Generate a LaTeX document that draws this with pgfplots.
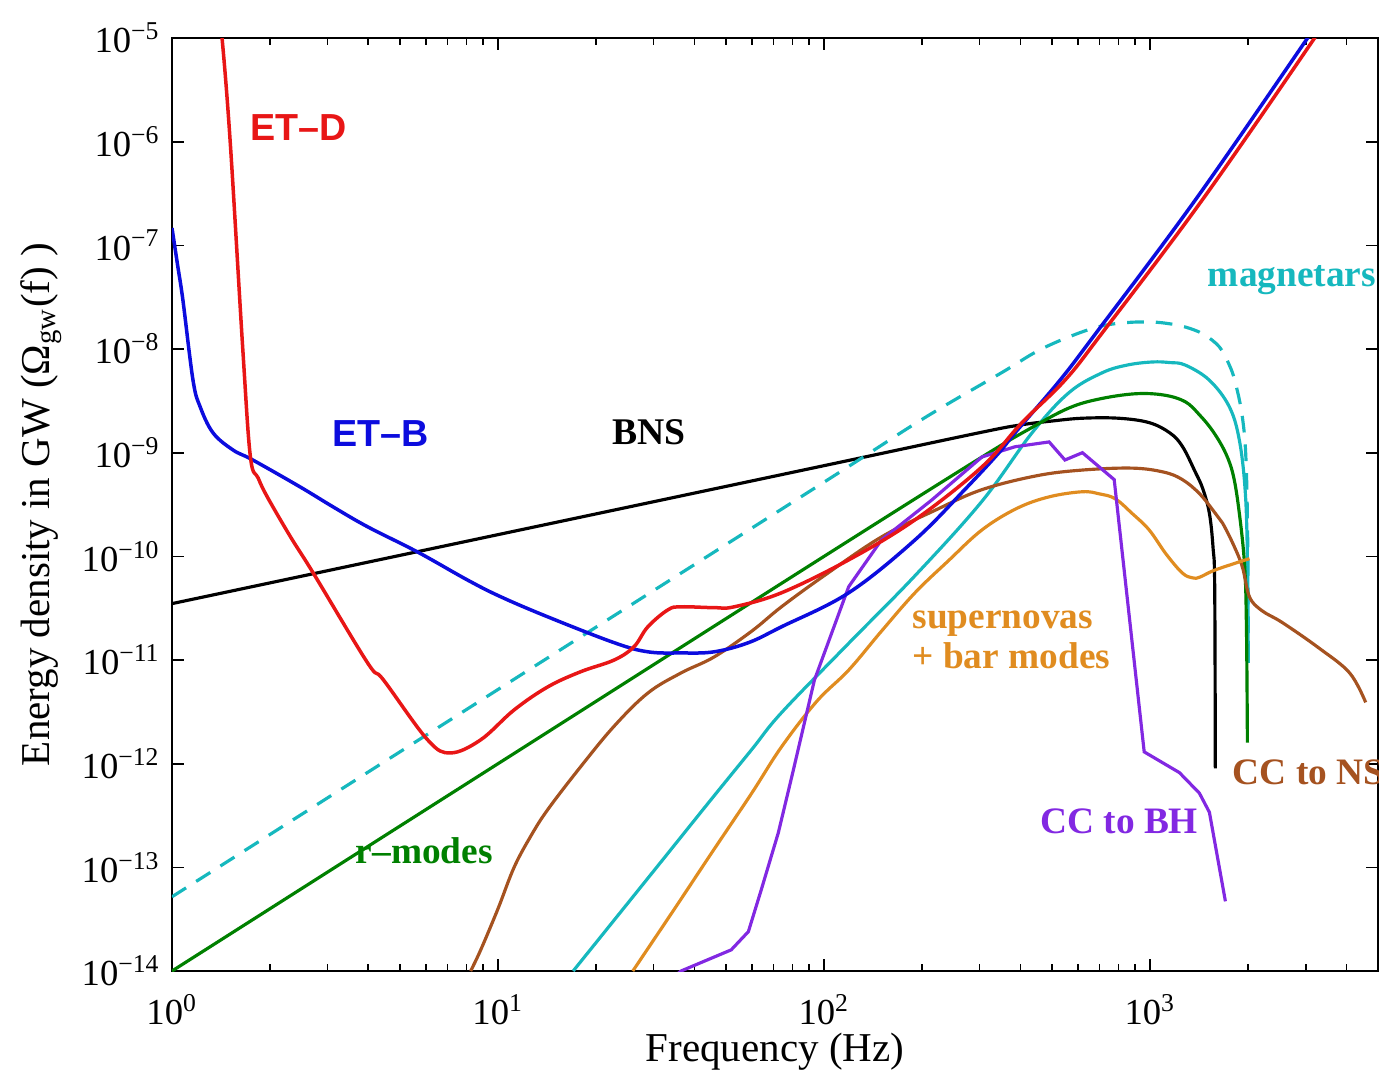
\documentclass[border=0pt]{standalone}
\usepackage{fontspec}
\setmainfont{Liberation Serif}
\newfontfamily\hv{Liberation Sans}
\usepackage{pgfplots}
\pgfplotsset{compat=1.18}

\definecolor{etd}{RGB}{232,22,22}
\definecolor{etb}{RGB}{12,12,222}
\definecolor{mag}{RGB}{22,184,190}
\definecolor{rmode}{RGB}{0,128,0}
\definecolor{ccns}{RGB}{165,82,32}
\definecolor{sn}{RGB}{224,140,32}
\definecolor{ccbh}{RGB}{130,40,226}

\newcommand{\pw}[1]{10\textsuperscript{#1}}

\begin{document}
\begin{tikzpicture}
\useasboundingbox (-51.6pt,-30pt) rectangle (363pt,291.3pt);
\begin{axis}[
  at={(0pt,0pt)}, anchor=south west,
  scale only axis, width=361.8pt, height=279.9pt,
  xmode=log, ymode=log,
  xmin=1, xmax=5000, ymin=1e-14, ymax=1e-5,
  axis line style={line width=0.6pt},
  xtick={1,10,100,1000},
  xticklabels={\pw{0},\pw{1},\pw{2},\pw{3}},
  minor xtick={2,3,4,5,6,7,8,9,20,30,40,50,60,70,80,90,200,300,400,500,600,700,800,900,2000,3000,4000},
  ytick={1e-14,1e-13,1e-12,1e-11,1e-10,1e-9,1e-8,1e-7,1e-6,1e-5},
  yticklabels={\pw{−14},\pw{−13},\pw{−12},\pw{−11},\pw{−10},\pw{−9},\pw{−8},\pw{−7},\pw{−6},\pw{−5}},
  yminorticks=false,
  major tick length=3.6pt, minor tick length=2pt,
  every tick/.style={black, line width=0.5pt},
  tick label style={font=\fontsize{11}{13}\selectfont},
  xticklabel style={yshift=-3.5pt},
  xlabel={Frequency (Hz)},
  ylabel={Energy density in GW (Ω\textsubscript{gw}(f) )},
  label style={font=\fontsize{12.3}{14}\selectfont},
  xlabel style={yshift=4.5pt},
  ylabel style={yshift=-1pt},
  every axis plot/.append style={line width=0.95pt},
  sm/.style={smooth, tension=0.6},
]

% BNS
\addplot[black, sm] coordinates {
(1,3.5e-11) (10,1.62e-10) (100,7.5e-10) (300,1.56e-9) (400,1.85e-9) (500,2.02e-9)
(620,2.15e-9) (800,2.15e-9) (993,1.95e-9) (1150,1.55e-9) (1256,1.15e-9) (1376,6.5e-10)
(1450,4.5e-10) (1520,2.6e-10) (1560,1.2e-10) (1578,5e-11) (1585,9e-13)};

% magnetars (dashed)
\addplot[mag, sm, dash pattern=on 5pt off 3.6pt] coordinates {
(1,5.2e-14) (10,5.2e-12) (100,5.2e-10) (200,2.1e-9) (350,5.9e-9) (450,9.5e-9)
(564,1.31e-8) (700,1.65e-8) (850,1.8e-8) (1015,1.82e-8) (1150,1.75e-8) (1282,1.63e-8)
(1450,1.4e-8) (1630,1.05e-8) (1750,7e-9) (1827,4.7e-9) (1919,2.2e-9) (1970,8e-10)
(1995,1e-10) (2000,9.4e-12)};

% magnetars (solid)
\addplot[mag, sm] coordinates {
(17,1e-14) (30,9.2e-14) (45,4.5e-13) (60,1.37e-12) (74,3.1e-12) (119,1.45e-11)
(190,6.5e-11) (305,3.4e-10) (434,1.55e-9) (564,3.8e-9) (713,5.9e-9) (850,7.0e-9)
(1015,7.5e-9) (1150,7.4e-9) (1282,7.0e-9) (1520,5.0e-9) (1750,2.77e-9) (1880,1.3e-9)
(1960,4e-10) (1990,8e-11) (2000,9.4e-12)};

% r-modes
\addplot[rmode, sm] coordinates {
(1,1e-14) (10,1e-12) (100,1e-10) (300,8.8e-10) (434,1.75e-9) (564,2.7e-9) (700,3.3e-9)
(900,3.7e-9) (1100,3.6e-9) (1282,3.1e-9) (1420,2.3e-9) (1560,1.6e-9) (1702,1e-9)
(1800,6e-10) (1878,2.6e-10) (1950,8e-11) (1975,2e-11) (1988,1.6e-12)};

% CC to NS
\addplot[ccns, sm] coordinates {
(8.24,1e-14) (8.85,1.6e-14) (10,4e-14) (11.2,1.0e-13) (12.6,2e-13) (14.2,3.6e-13)
(17.9,9.3e-13) (22.7,2.3e-12) (28.8,4.8e-12) (36.4,7.5e-12) (46,1.07e-11) (60,1.9e-11)
(74,3.26e-11) (100,6.5e-11) (150,1.54e-10) (220,2.8e-10) (305,4.4e-10) (450,6e-10)
(620,6.8e-10) (881,7.1e-10) (1100,6.5e-10) (1256,5.5e-10) (1420,4e-10) (1585,2.6e-10)
(1667,2.1e-10) (1800,1.3e-10) (1919,7.9e-11) (2017,4.07e-11) (2200,3e-11) (2548,2.29e-11)
(3300,1.3e-11) (4093,7.5e-12) (4583,3.9e-12)};

% supernovas + bar modes
\addplot[sn, sm] coordinates {
(25.9,1e-14) (35,4.1e-14) (45,1.35e-13) (60,5.2e-13) (74,1.45e-12) (95,4e-12) (119,8e-12)
(150,1.9e-11) (190,4.45e-11) (240,9e-11) (305,1.8e-10) (390,2.9e-10) (490,3.75e-10)
(620,4.2e-10) (700,4.0e-10) (781,3.6e-10) (880,2.6e-10) (993,1.8e-10) (1120,1.05e-10)
(1256,6.9e-11) (1350,6.2e-11) (1420,6.3e-11) (1585,7.4e-11) (2017,9.5e-11)};

% CC to BH
\addplot[ccbh] coordinates {
(35,9e-15) (36.4,1e-14) (51.9,1.6e-14) (58.6,2.4e-14) (64.2,6.1e-14) (72.4,2.16e-13)
(80,8e-13) (93.4,6.4e-12) (119,5.1e-11) (150,1.44e-10) (214,3.5e-10) (305,9.1e-10)
(385,1.14e-9) (490,1.27e-9) (548,8.5e-10) (620,1.0e-9) (776,5.5e-10) (959,1.3e-12)
(1230,8.2e-13) (1416,5.2e-13) (1520,3.4e-13) (1702,4.7e-14)};

% ET-B
\addplot[etb, line width=1.05pt, sm] coordinates {
(1,1.47e-7) (1.04,6.5e-8) (1.08,2.97e-8) (1.16,5e-9) (1.22,2.77e-9) (1.337,1.55e-9)
(1.54,1.06e-9) (1.77,8.5e-10) (2.47,4.68e-10) (3.12,3.0e-10) (3.98,1.93e-10)
(5.67,1.1e-10) (8.07,5.9e-11) (10.2,4.07e-11) (14.2,2.61e-11) (22.7,1.47e-11)
(28.8,1.2e-11) (36.4,1.17e-11) (46,1.2e-11) (58.6,1.47e-11) (74,2.09e-11) (119,4.45e-11)
(190,1.44e-10) (270,4.4e-10) (344,1.0e-9) (385,1.55e-9) (529,5e-9) (683,1.43e-8)
(1376,2.74e-7) (3041,1e-5) (3300,1.5e-5)};

% ET-D
\addplot[etd, line width=1.05pt, sm] coordinates {
(1.38,2e-5) (1.424,1e-5) (1.51,9.5e-7) (1.65,9.6e-9) (1.74,9.1e-10) (1.838,5.7e-10)
(1.96,3.75e-10) (2.31,1.54e-10) (2.71,6.93e-11) (3.98,9.4e-12) (4.45,6.44e-12)
(6.08,1.7e-12) (7.15,1.27e-12) (8.85,1.7e-12) (11.2,3.3e-12) (14.2,5.5e-12)
(17.9,7.7e-12) (22.7,1.0e-11) (26.1,1.34e-11) (28.8,2.09e-11) (33.2,3.05e-11)
(36.4,3.26e-11) (46,3.2e-11) (53,3.26e-11) (74,4.45e-11) (119,9.25e-11) (190,2.25e-10)
(305,7.3e-10) (404,1.94e-9) (548,5.0e-9) (713,1.43e-8) (1445,2.74e-7) (3195,1e-5)
(3500,1.6e-5)};

% labels
\node[etd, font=\hv\bfseries\fontsize{11.3}{13}\selectfont] at (axis cs:2.44,1.36e-6) {ET–D};
\node[etb, font=\hv\bfseries\fontsize{11.3}{13}\selectfont] at (axis cs:4.36,1.52e-9) {ET–B};
\node[black, font=\bfseries\fontsize{11.3}{13}\selectfont] at (axis cs:29.1,1.58e-9) {BNS};
\node[mag, font=\bfseries\fontsize{11.2}{13}\selectfont, anchor=east, inner sep=0pt] at (axis cs:4950,4.64e-8) {magnetars};
\node[sn, font=\bfseries\fontsize{11.2}{12.2}\selectfont, anchor=west, align=left, inner sep=0pt] at (axis cs:186,1.57e-11) {supernovas\\+ bar modes};
\node[ccbh, font=\bfseries\fontsize{11.2}{13}\selectfont] at (axis cs:804,2.75e-13) {CC to BH};
\node[ccns, font=\bfseries\fontsize{11.2}{13}\selectfont, anchor=west, inner sep=0pt] at (axis cs:1787,8.2e-13) {CC to NS};
\node[rmode, font=\bfseries\fontsize{11.2}{13}\selectfont, anchor=west, inner sep=0pt] at (axis cs:3.65,1.45e-13) {r–modes};
\end{axis}
\end{tikzpicture}
\end{document}
